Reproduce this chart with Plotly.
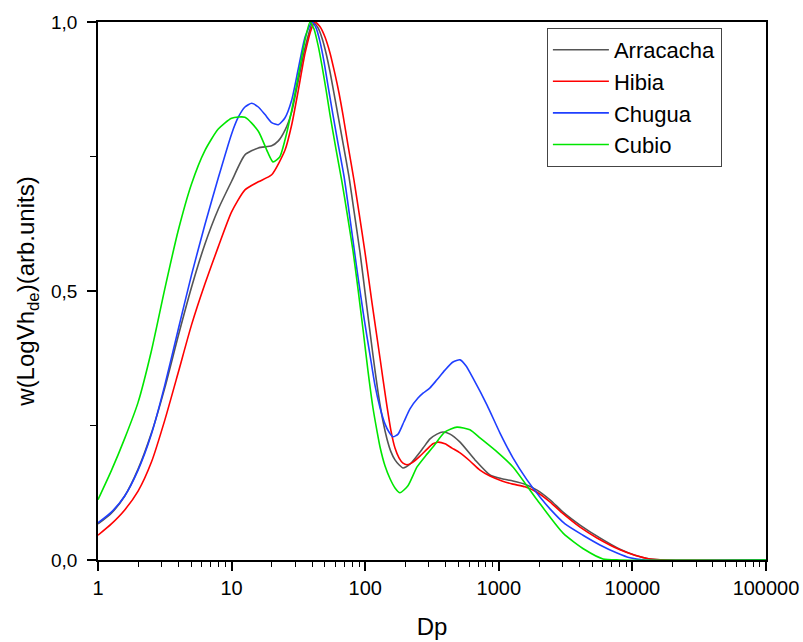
import plotly.graph_objects as go

# ---- data (x given as log10(Dp)) ----
arracacha_log_dp = [0, .1, .2, .3, .4, .5, .6, .7, .8, .9, 1.0, 1.1, 1.2, 1.3, 1.35, 1.4, 1.45, 1.5, 1.55, 1.609,
                    1.647, 1.677, 1.707, 1.737, 1.766, 1.796, 1.834, 1.879, 1.916, 1.961, 2.006, 2.058, 2.096,
                    2.133, 2.163, 2.193, 2.223, 2.253, 2.283, 2.335, 2.380, 2.433, 2.485, 2.537, 2.582, 2.635,
                    2.710, 2.822, 2.934, 3.024, 3.106, 3.196, 3.286, 3.383, 3.481, 3.608, 3.757, 3.907, 4.019,
                    4.132, 4.244, 5]
arracacha_w = [.067, .087, .119, .169, .236, .320, .416, .507, .587, .652, .704, .753, .766, .770, .779, .799, .833,
               .892, .952, 1.0,
               .989, .970, .942, .907, .868, .827, .775, .712, .649, .572, .483, .381, .312,
               .258, .225, .201, .186, .177, .171, .178, .191, .208, .225, .234, .238, .234,
               .219, .186, .158, .151, .147, .141, .130, .112, .089, .065, .041, .020, .009,
               .002, 0, 0]

hibia_log_dp = [0, .1, .2, .3, .4, .5, .6, .7, .8, .9, 1.0, 1.1, 1.2, 1.3, 1.4, 1.45, 1.5, 1.55, 1.6, 1.624,
                1.662, 1.699, 1.737, 1.774, 1.804, 1.834, 1.871, 1.916, 1.954, 1.999, 2.051, 2.111, 2.156,
                2.193, 2.223, 2.253, 2.283, 2.313, 2.358, 2.410, 2.463, 2.507, 2.545, 2.597, 2.650, 2.710,
                2.784, 2.859, 2.934, 3.024, 3.106, 3.196, 3.286, 3.383, 3.481, 3.608, 3.735, 3.907, 4.019,
                4.132, 4.244, 5]
hibia_w = [.046, .067, .093, .128, .182, .260, .348, .437, .513, .582, .647, .688, .703, .716, .762, .809, .874,
           .942, .989, 1.0,
           .991, .972, .942, .903, .868, .827, .771, .706, .645, .571, .478, .375, .297,
           .240, .208, .190, .180, .177, .182, .193, .206, .216, .219, .216, .208, .199,
           .184, .167, .156, .147, .141, .136, .126, .108, .086, .061, .041, .019, .009,
           .002, 0, 0]

chugua_log_dp = [0, .1, .2, .3, .4, .5, .6, .7, .8, .9, 1.0, 1.05, 1.1, 1.15, 1.2, 1.25, 1.3, 1.35, 1.4, 1.45,
                 1.5, 1.55, 1.602,
                 1.632, 1.662, 1.692, 1.722, 1.759, 1.796, 1.841, 1.871, 1.909, 1.946, 1.991, 2.036, 2.073,
                 2.111, 2.148, 2.178, 2.208, 2.246, 2.290, 2.335, 2.395, 2.433, 2.485, 2.537, 2.597, 2.657,
                 2.710, 2.754, 2.807, 2.912, 3.009, 3.106, 3.211, 3.308, 3.383, 3.496, 3.630, 3.757, 3.885,
                 3.982, 4.094, 5]
chugua_w = [.069, .089, .119, .167, .234, .325, .428, .530, .623, .710, .792, .823, .842, .849, .842, .828, .813,
            .809, .822, .855, .914, .972, 1.0,
            .989, .963, .926, .881, .827, .775, .714, .662, .593, .526, .450, .381, .325,
            .283, .253, .238, .229, .234, .257, .281, .301, .310, .320, .335, .353, .368,
            .372, .361, .338, .288, .236, .190, .149, .117, .095, .067, .046, .028, .013,
            .004, 0, 0]

cubio_log_dp = [0, .1, .2, .3, .4, .5, .6, .7, .8, .9, 1.0, 1.1, 1.2, 1.27, 1.31, 1.36, 1.4, 1.45, 1.5, 1.55,
                1.587,
                1.617, 1.647, 1.677, 1.707, 1.737, 1.781, 1.826, 1.864, 1.909, 1.946, 1.984, 2.021, 2.058,
                2.088, 2.111, 2.148, 2.186, 2.223, 2.260, 2.320, 2.388, 2.450, 2.507, 2.597, 2.687, 2.784,
                2.859, 2.987, 3.106, 3.286, 3.481, 3.645, 3.780, 3.907, 5]
cubio_w = [.112, .166, .226, .293, .389, .504, .612, .699, .761, .801, .821, .823, .797, .758, .740, .749, .781,
           .836, .901, .967, 1.0,
           .987, .957, .918, .874, .827, .764, .703, .645, .574, .504, .428, .351, .283,
           .240, .210, .175, .151, .134, .125, .138, .173, .193, .210, .238, .247, .242,
           .227, .201, .173, .112, .050, .019, .002, 0, 0]

series_names = ["Arracacha", "Hibia", "Chugua", "Cubio"]
series_colors = ["#555555", "#ff0000", "#1f3fff", "#00e600"]

x_tickvals = [1, 10, 100, 1000, 10000, 100000]
x_ticktext = ["1", "10", "100", "1000", "10000", "100000"]
y_tickvals = [0, 0.5, 1.0]
y_ticktext = ["0,0", "0,5", "1,0"]

FONT = "Liberation Sans, Arial, sans-serif"

fig = go.Figure()
for name, color, lx, ys in zip(series_names, series_colors,
                               [arracacha_log_dp, hibia_log_dp, chugua_log_dp, cubio_log_dp],
                               [arracacha_w, hibia_w, chugua_w, cubio_w]):
    fig.add_trace(go.Scatter(x=[10 ** v for v in lx], y=ys, mode="lines", name=name,
                             line=dict(color=color, width=1.6, shape="spline", smoothing=0.6)))

fig.update_layout(
    width=803, height=642,
    margin=dict(l=98, r=37, t=22, b=82, autoexpand=False),
    paper_bgcolor="white", plot_bgcolor="white",
    font=dict(family=FONT, color="black"),
    showlegend=True,
    legend=dict(x=0.672, y=0.989, xanchor="left", yanchor="top",
                bordercolor="#444444", borderwidth=1, bgcolor="white",
                font=dict(size=22, family=FONT), itemwidth=56,
                tracegroupgap=0),
)

fig.update_xaxes(
    type="log", range=[0, 5], automargin=False,
    tickvals=x_tickvals, ticktext=x_ticktext,
    tickfont=dict(size=20, family=FONT),
    showline=True, linecolor="black", linewidth=1.6, mirror=True,
    ticks="outside", ticklen=9, tickwidth=1.5, tickcolor="black",
    minor=dict(ticks="outside", ticklen=5, tickwidth=1.2, tickcolor="black", dtick="D1", showgrid=False),
    showgrid=False, zeroline=False,
    title=dict(text="Dp", font=dict(size=24, family=FONT), standoff=20),
)
fig.update_yaxes(
    range=[0, 1], automargin=False,
    tickvals=y_tickvals, ticktext=y_ticktext,
    tickfont=dict(size=19, family=FONT),
    ticklabelstandoff=6,
    showline=True, linecolor="black", linewidth=1.6, mirror=True,
    ticks="outside", ticklen=9, tickwidth=1.5, tickcolor="black",
    minor=dict(ticks="outside", ticklen=6, tickwidth=1.2, tickcolor="black", dtick=0.25, showgrid=False),
    showgrid=False, zeroline=False,
    title=dict(text="w(LogVh<sub>de</sub>)(arb.units)", font=dict(size=24, family=FONT), standoff=10),
)

fig.write_html("out.html")
